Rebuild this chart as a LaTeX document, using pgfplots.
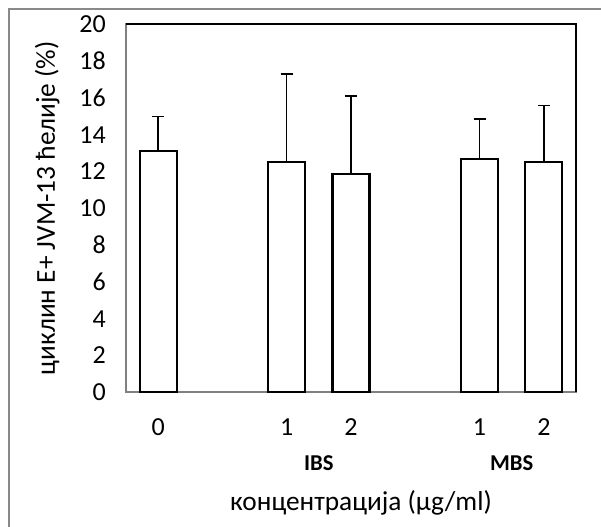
\documentclass[border=0pt]{standalone}
\usepackage{fontspec}
\setmainfont{Carlito}
\usepackage{pgfplots}
\pgfplotsset{compat=1.18}

% values: position, mean, error (+)
\pgfplotstableread{
x  y     err
0  13.1  1.9
2  12.5  4.8
3  11.85 4.25
5  12.7  2.15
6  12.5  3.1
}\cyclin

\definecolor{framegray}{RGB}{137,137,137}
\definecolor{axisgray}{RGB}{128,128,128}

\newcommand{\lbl}{\fontsize{19.5}{23}\selectfont}
\newcommand{\ttl}{\fontsize{20.5}{24}\selectfont}

\begin{document}
\begin{tikzpicture}
% whole picture: 601x527 px at 0.75pt per px
\useasboundingbox (0,0) rectangle (450.75pt,395.25pt);
\fill[white] (0,0) rectangle (450.75pt,395.25pt);
\draw[framegray, line width=1.5pt] (6.75pt,0) -- (6.75pt,388.5pt) -- (450.75pt,388.5pt);

\begin{axis}[
    at={(94.5pt,101pt)}, anchor=south west,
    scale only axis,
    width=337.5pt, height=276pt,
    xmin=-0.5, xmax=6.5,
    ymin=0, ymax=20,
    ytick={0,2,...,20},
    xtick={0,2,3,5,6},
    xticklabels={0,1,2,1,2},
    major tick length=0pt,
    axis line style={axisgray, line width=1.5pt},
    tick label style={font=\lbl},
    /pgf/number format/assume math mode=true,
    yticklabel style={inner sep=0pt, xshift=-15pt},
    xticklabel style={inner sep=0pt, anchor=north, yshift=-19.5pt},
    clip=false,
    after end axis/.code={
        \draw[black, line width=1.5pt] (rel axis cs:0,1) -- (rel axis cs:1,1) -- (rel axis cs:1,0);
        \node[font=\fontsize{17}{20}\selectfont\bfseries] at (axis cs:2.5,0) [yshift=-53pt] {IBS};
        \node[font=\fontsize{17}{20}\selectfont\bfseries] at (axis cs:5.5,0) [yshift=-53pt] {MBS};
        \node[font=\ttl] at (rel axis cs:0.5,0) [xshift=7.5pt, yshift=-83pt] {концентрација (µg/ml)};
        \node[font=\ttl, xshift=-59pt, rotate=90] at (rel axis cs:0,0.5) {циклин E+ JVM-13 ћелије (\%)};
    },
]
\addplot[
    ybar, bar width=27.75pt, bar shift=0pt,
    draw=black, fill=white, line width=1.7pt,
    error bars/.cd,
        y dir=plus, y explicit,
        error bar style={black, line width=1pt},
        error mark options={rotate=90, mark size=4.5pt, black, line width=1pt},
] table[x=x, y=y, y error=err] {\cyclin};
\end{axis}
\end{tikzpicture}
\end{document}
